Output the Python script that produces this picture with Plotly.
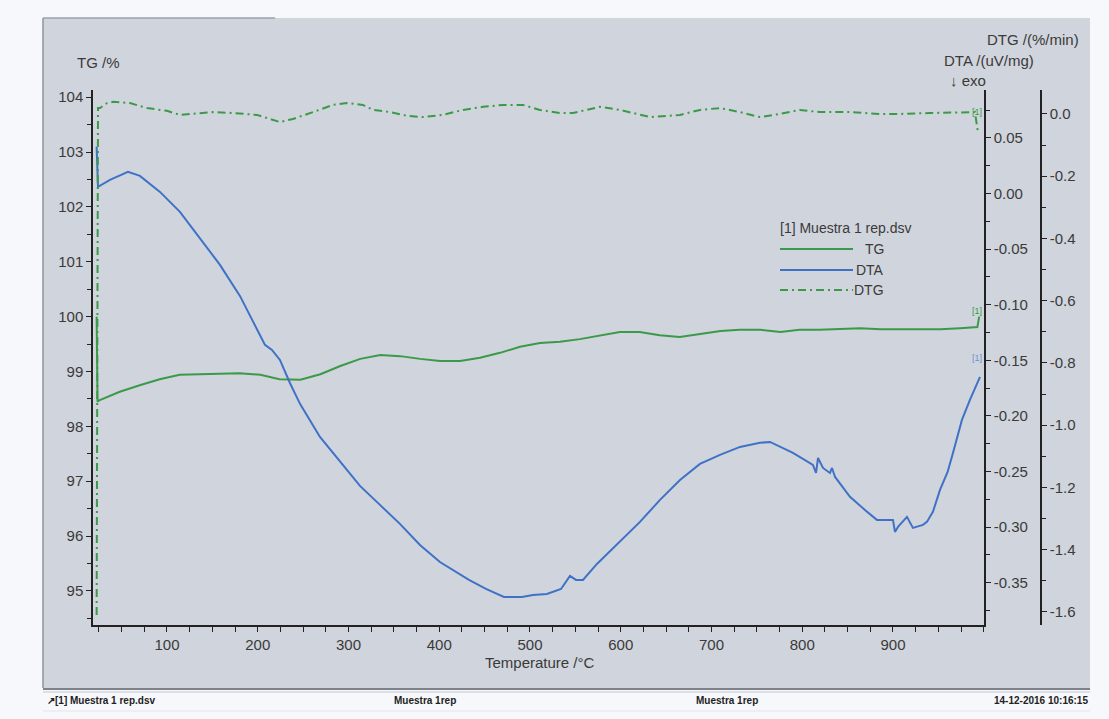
import plotly.graph_objects as go

# ---------------- data ----------------
T_tg = [22.5, 23.5, 26, 48, 70, 92, 114, 136, 158, 180, 203, 224, 247, 269, 291, 313, 335, 357,
        379, 401, 423, 445, 467, 489, 511, 533, 555, 577, 599, 621, 643, 665, 688, 710, 731, 754,
        776, 797, 819, 842, 864, 886, 908, 930, 952, 974, 993, 995]
tg = [100.0, 98.45, 98.48, 98.63, 98.75, 98.86, 98.94, 98.95, 98.97, 98.97, 98.94, 98.86, 98.85,
      98.95, 99.10, 99.23, 99.30, 99.28, 99.23, 99.19, 99.19, 99.25, 99.34, 99.45, 99.52, 99.54,
      99.59, 99.66, 99.72, 99.72, 99.66, 99.63, 99.68, 99.74, 99.76, 99.76, 99.72, 99.76, 99.76,
      99.77, 99.79, 99.77, 99.77, 99.77, 99.77, 99.79, 99.81, 100.0]

T_dta = [22.5, 24.0, 37.2, 57.0, 70.2, 92.3, 114.3, 136.4, 158.4, 180.4, 197.0, 208.0, 215.7,
         224.5, 235.5, 246.6, 268.6, 290.6, 312.7, 334.7, 356.7, 378.8, 400.8, 432.8, 451.5,
         471.3, 491.2, 503.3, 518.7, 534.2, 544.1, 550.7, 558.4, 573.8, 599.2, 621.2, 643.3,
         665.3, 687.3, 709.4, 731.4, 753.4, 764.5, 775.5, 789.8, 811.8, 815.2, 817.4, 822.9,
         830.6, 832.8, 836.2, 852.6, 869.1, 882.3, 900.0, 902.2, 905.5, 915.4, 922.0, 933.0,
         937.4, 944.0, 951.8, 960.2, 966.1, 976.0, 984.8, 991.5, 995.9]
dta = [0.0419, 0.0059, 0.0122, 0.0194, 0.0158, 0.0014, -0.0165, -0.0399, -0.0642, -0.0921,
       -0.1182, -0.1362, -0.1407, -0.1497, -0.1704, -0.1892, -0.2189, -0.2414, -0.2629, -0.2800,
       -0.2971, -0.3160, -0.3314, -0.3475, -0.3556, -0.3628, -0.3628, -0.3610, -0.3601, -0.3556,
       -0.3439, -0.3475, -0.3475, -0.3331, -0.3124, -0.2953, -0.2755, -0.2576, -0.2432, -0.2351,
       -0.2279, -0.2242, -0.2234, -0.2279, -0.2333, -0.2441, -0.2513, -0.2378, -0.2468, -0.2513,
       -0.2468, -0.2549, -0.2728, -0.2845, -0.2935, -0.2935, -0.3043, -0.2998, -0.2908, -0.3007,
       -0.2980, -0.2953, -0.2863, -0.2665, -0.2504, -0.2333, -0.2036, -0.1856, -0.1721, -0.1649]

T_dtg = [22.5, 24.0, 26.2, 33.9, 40.5, 59.2, 78.0, 100.0, 114.3, 128.7, 150.7, 172.7, 199.2,
         224.5, 238.8, 260.9, 282.9, 298.3, 316.0, 327.0, 345.7, 364.5, 382.1, 404.1, 426.2,
         448.2, 470.3, 492.3, 511.0, 533.0, 547.4, 577.1, 599.2, 632.2, 665.3, 687.3, 709.4,
         731.4, 753.4, 775.5, 797.5, 819.5, 852.6, 885.6, 907.7, 940.7, 973.8, 990.3, 993.6]
dtg = [-1.610, 0.019, 0.019, 0.035, 0.039, 0.035, 0.019, 0.010, -0.003, 0.000, 0.006, 0.003,
       -0.003, -0.026, -0.016, 0.006, 0.029, 0.035, 0.029, 0.013, 0.006, -0.006, -0.010, -0.003,
       0.013, 0.023, 0.029, 0.029, 0.013, 0.003, 0.003, 0.023, 0.013, -0.010, -0.003, 0.013,
       0.019, 0.006, -0.010, 0.000, 0.013, 0.006, 0.006, 0.000, 0.000, 0.003, 0.006, 0.006, -0.058]

x_ticks = [100, 200, 300, 400, 500, 600, 700, 800, 900]
tg_ticks = [95, 96, 97, 98, 99, 100, 101, 102, 103, 104]
dta_ticks = [-0.35, -0.30, -0.25, -0.20, -0.15, -0.10, -0.05, 0.00, 0.05]
dta_labels = ["-0.35", "-0.30", "-0.25", "-0.20", "-0.15", "-0.10", "-0.05", "0.00", "0.05"]
dtg_ticks = [-1.6, -1.4, -1.2, -1.0, -0.8, -0.6, -0.4, -0.2, 0.0]
dtg_labels = ["-1.6", "-1.4", "-1.2", "-1.0", "-0.8", "-0.6", "-0.4", "-0.2", "0.0"]

# ---------------- styling ----------------
W, H = 1109, 719
ML, MR, MT, MB = 93, 68, 90, 94
PW = W - ML - MR
PH = H - MT - MB


def px(x):
    return (x - ML) / PW


def py(y):
    return (H - MB - y) / PH


GREEN = "#3b9a48"
BLUE = "#3f72c6"
TXT = "#3a3a3a"
AX = "#222222"
FONT = "Liberation Sans Narrow, Arial Narrow, Liberation Sans, Arial, sans-serif"
DASHDOT = "8px,4px,2px,4px"

fig = go.Figure()
fig.add_trace(go.Scatter(x=T_tg, y=tg, mode="lines", name="TG",
                         line=dict(color=GREEN, width=2), xaxis="x", yaxis="y"))
fig.add_trace(go.Scatter(x=T_dta, y=dta, mode="lines", name="DTA",
                         line=dict(color=BLUE, width=2), xaxis="x", yaxis="y2"))
fig.add_trace(go.Scatter(x=T_dtg, y=dtg, mode="lines", name="DTG",
                         line=dict(color=GREEN, width=2, dash=DASHDOT), xaxis="x", yaxis="y3"))

tickfont = dict(family=FONT, size=15, color=TXT)
common = dict(showgrid=False, zeroline=False, showline=True, linecolor=AX, linewidth=1.5,
              ticks="outside", ticklen=5, tickwidth=1.2, tickcolor=AX, tickfont=tickfont,
              automargin=False)

fig.update_layout(
    width=W, height=H, template="none",
    margin=dict(l=ML, r=MR, t=MT, b=MB, pad=0),
    paper_bgcolor="#f7f8fb", plot_bgcolor="rgba(0,0,0,0)",
    showlegend=False,
    font=dict(family=FONT, color=TXT),
    xaxis=dict(domain=[0, px(984)], range=[18.5, 1000.3], tickmode="array", tickvals=x_ticks,
               minor=dict(tickmode="linear", tick0=0, dtick=25, ticks="outside", ticklen=5,
                          tickcolor=AX, tickwidth=1.2),
               **common),
    yaxis=dict(range=[94.38, 104.13], tickmode="array", tickvals=tg_ticks, side="left",
               anchor="x",
               minor=dict(tickmode="linear", tick0=0, dtick=0.5, ticks="outside", ticklen=4,
                          tickcolor=AX, tickwidth=1.2),
               **common),
    yaxis2=dict(range=[-0.388, 0.093], overlaying="y", side="right", anchor="x",
                tickmode="array", tickvals=dta_ticks, ticktext=dta_labels,
                minor=dict(tickmode="linear", tick0=0, dtick=0.025, ticks="outside", ticklen=4,
                           tickcolor=AX, tickwidth=1.2),
                **common),
    yaxis3=dict(range=[-1.642, 0.077], overlaying="y", side="right", anchor="free", position=1.0,
                tickmode="array", tickvals=dtg_ticks, ticktext=dtg_labels,
                minor=dict(tickmode="linear", tick0=0, dtick=0.1, ticks="outside", ticklen=4,
                           tickcolor=AX, tickwidth=1.2),
                **common),
)

shapes = []
# scanned grey panel
shapes.append(dict(type="rect", xref="paper", yref="paper", x0=px(43), x1=px(1090),
                   y0=py(688), y1=py(18), fillcolor="#d0d4dc", line=dict(width=0), layer="below"))
shapes.append(dict(type="line", xref="paper", yref="paper", x0=px(43), x1=px(43),
                   y0=py(688), y1=py(18), line=dict(color="#8f939b", width=1.5), layer="below"))
shapes.append(dict(type="line", xref="paper", yref="paper", x0=px(43), x1=px(275),
                   y0=py(18), y1=py(18), line=dict(color="#9ea2aa", width=1.5), layer="below"))
# footer separators
shapes.append(dict(type="line", xref="paper", yref="paper", x0=px(43), x1=px(1090),
                   y0=py(689), y1=py(689), line=dict(color="#7d8189", width=2)))
shapes.append(dict(type="line", xref="paper", yref="paper", x0=px(43), x1=px(1090),
                   y0=py(692), y1=py(692), line=dict(color="#c3c6cc", width=1)))
shapes.append(dict(type="line", xref="paper", yref="paper", x0=px(43), x1=px(1090),
                   y0=py(711), y1=py(711), line=dict(color="#e1e3e8", width=1)))
# legend sample lines
shapes.append(dict(type="line", xref="paper", yref="paper", x0=px(780), x1=px(853),
                   y0=py(249), y1=py(249), line=dict(color=GREEN, width=2)))
shapes.append(dict(type="line", xref="paper", yref="paper", x0=px(780), x1=px(853),
                   y0=py(270), y1=py(270), line=dict(color=BLUE, width=2)))
shapes.append(dict(type="line", xref="paper", yref="paper", x0=px(780), x1=px(853),
                   y0=py(290), y1=py(290), line=dict(color=GREEN, width=2, dash=DASHDOT)))
fig.update_layout(shapes=shapes)


def ann(text, x, y, xanchor="left", size=14, color=TXT, bold=False):
    if bold:
        text = "<b>" + text + "</b>"
    return dict(text=text, x=px(x), y=py(y), xref="paper", yref="paper", xanchor=xanchor,
                yanchor="middle", showarrow=False, font=dict(family=FONT, size=size, color=color))


anns = [
    ann("TG /%", 75, 62, size=15),
    ann("DTG /(%/min)", 1081, 40, xanchor="right", size=15),
    ann("DTA /(uV/mg)", 1036, 60, xanchor="right", size=15),
    ann("↓ exo", 988, 80, xanchor="right", size=15),
    ann("Temperature /°C", 540, 662, xanchor="center", size=15),
    ann("[1] Muestra 1 rep.dsv", 778, 228, size=14),
    ann("TG", 886, 249, xanchor="right", size=14),
    ann("DTA", 886, 270, xanchor="right", size=14),
    ann("DTG", 886, 290, xanchor="right", size=14),
    ann("[1]", 984, 112, xanchor="right", size=9, color=GREEN),
    ann("[1]", 984, 311, xanchor="right", size=9, color=GREEN),
    ann("[1]", 984, 358, xanchor="right", size=9, color="#6f8fd0"),
    ann("↗[1] Muestra 1 rep.dsv", 45, 700, size=10, color="#222", bold=True),
    ann("Muestra 1rep", 425, 700, xanchor="center", size=10, color="#222", bold=True),
    ann("Muestra 1rep", 727, 700, xanchor="center", size=10, color="#222", bold=True),
    ann("14-12-2016 10:16:15", 1090, 700, xanchor="right", size=10, color="#222", bold=True),
]
fig.update_layout(annotations=anns)

fig.write_html("out.html")
